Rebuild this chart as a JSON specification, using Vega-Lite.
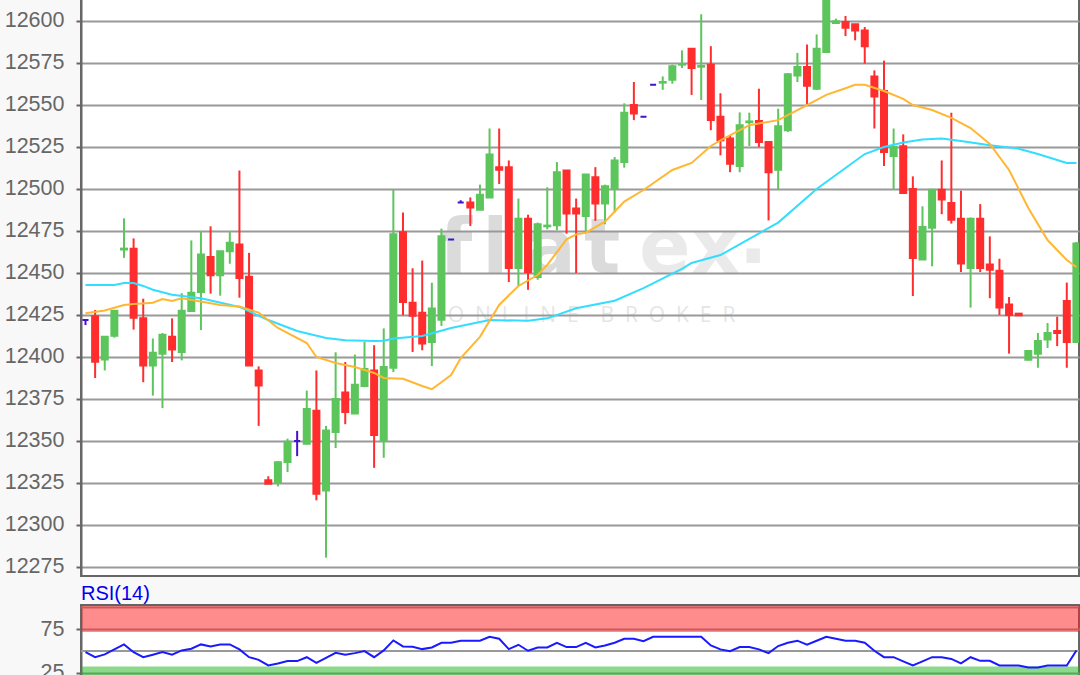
{
  "$schema": "https://vega.github.io/schema/vega-lite/v6.json",
  "background": "#f8f8f8",
  "padding": {"left": 0, "top": -11, "right": 1, "bottom": 0},
  "spacing": 4,
  "config": {
    "view": {"fill": "white", "stroke": "#666666", "strokeWidth": 2},
    "font": "Liberation Sans",
    "axisY": {
      "title": null,
      "labelFont": "Liberation Sans",
      "labelFontSize": 21.5,
      "labelColor": "#666666",
      "labelPadding": 12,
      "tickColor": "#666666",
      "tickSize": 5,
      "tickWidth": 2,
      "domainColor": "#666666",
      "domainWidth": 2,
      "gridColor": "#999999",
      "gridWidth": 2,
      "gridOpacity": 1,
      "minExtent": 80,
      "maxExtent": 80
    }
  },
  "datasets": {
    "candles": [
      {"i":0,"open":12422,"high":12422.5,"low":12419,"close":12422,"dir":"flat"},
      {"i":1,"open":12424.2,"high":12428,"low":12387.5,"close":12397.2,"dir":"down"},
      {"i":2,"open":12398.5,"high":12412,"low":12392,"close":12412,"dir":"up"},
      {"i":3,"open":12412.7,"high":12427.5,"low":12411.5,"close":12427.5,"dir":"up"},
      {"i":4,"open":12464,"high":12482.5,"low":12459,"close":12464.5,"dir":"up"},
      {"i":5,"open":12464.5,"high":12470.6,"low":12416.3,"close":12423.4,"dir":"down"},
      {"i":6,"open":12423,"high":12434.7,"low":12385,"close":12395,"dir":"down"},
      {"i":7,"open":12395,"high":12411,"low":12377,"close":12402.6,"dir":"up"},
      {"i":8,"open":12402,"high":12414.3,"low":12369.6,"close":12413.3,"dir":"up"},
      {"i":9,"open":12412,"high":12423,"low":12397,"close":12404.4,"dir":"down"},
      {"i":10,"open":12403,"high":12438,"low":12398,"close":12427.6,"dir":"up"},
      {"i":11,"open":12427.4,"high":12469.4,"low":12426.8,"close":12438.3,"dir":"up"},
      {"i":12,"open":12438.7,"high":12475,"low":12416,"close":12461,"dir":"up"},
      {"i":13,"open":12459.5,"high":12477.8,"low":12437.7,"close":12448.6,"dir":"down"},
      {"i":14,"open":12448.6,"high":12463,"low":12436.5,"close":12463,"dir":"up"},
      {"i":15,"open":12463,"high":12475,"low":12455.5,"close":12468,"dir":"up"},
      {"i":16,"open":12467,"high":12511,"low":12435.3,"close":12447,"dir":"down"},
      {"i":17,"open":12447.8,"high":12462,"low":12395,"close":12395,"dir":"down"},
      {"i":18,"open":12392,"high":12394.4,"low":12359,"close":12383,"dir":"down"},
      {"i":19,"open":12326.6,"high":12329,"low":12324.6,"close":12324.6,"dir":"down"},
      {"i":20,"open":12325,"high":12338,"low":12323,"close":12337.3,"dir":"up"},
      {"i":21,"open":12337.5,"high":12351.4,"low":12331.5,"close":12349.6,"dir":"up"},
      {"i":22,"open":12350,"high":12356,"low":12341,"close":12350,"dir":"flat"},
      {"i":23,"open":12348.4,"high":12380,"low":12348,"close":12369,"dir":"up"},
      {"i":24,"open":12368,"high":12392,"low":12314.7,"close":12318.6,"dir":"down"},
      {"i":25,"open":12320.6,"high":12359,"low":12280.6,"close":12356.3,"dir":"up"},
      {"i":26,"open":12355.4,"high":12402.8,"low":12345.8,"close":12375,"dir":"up"},
      {"i":27,"open":12378.8,"high":12397,"low":12360,"close":12367.3,"dir":"down"},
      {"i":28,"open":12366.3,"high":12401.4,"low":12366,"close":12383.5,"dir":"up"},
      {"i":29,"open":12382.7,"high":12409,"low":12382,"close":12392.9,"dir":"up"},
      {"i":30,"open":12392,"high":12407,"low":12334,"close":12353.6,"dir":"down"},
      {"i":31,"open":12350,"high":12417,"low":12340,"close":12394,"dir":"up"},
      {"i":32,"open":12393.6,"high":12500,"low":12391,"close":12473,"dir":"up"},
      {"i":33,"open":12474.2,"high":12486,"low":12424.8,"close":12432.7,"dir":"down"},
      {"i":34,"open":12432.3,"high":12452.8,"low":12403,"close":12424.6,"dir":"down"},
      {"i":35,"open":12426.4,"high":12457.4,"low":12404,"close":12408,"dir":"down"},
      {"i":36,"open":12409,"high":12444.2,"low":12394.6,"close":12428.8,"dir":"up"},
      {"i":37,"open":12422.2,"high":12476.4,"low":12418.5,"close":12471.8,"dir":"up"},
      {"i":38,"open":12470,"high":12470,"low":12470,"close":12470,"dir":"flat"},
      {"i":39,"open":12492,"high":12493.3,"low":12492,"close":12492,"dir":"flat"},
      {"i":40,"open":12492,"high":12495,"low":12478,"close":12489,"dir":"down"},
      {"i":41,"open":12487.7,"high":12502.6,"low":12487.7,"close":12496.6,"dir":"up"},
      {"i":42,"open":12495,"high":12536,"low":12495,"close":12520.6,"dir":"up"},
      {"i":43,"open":12513,"high":12536,"low":12503,"close":12511.5,"dir":"down"},
      {"i":44,"open":12513,"high":12517,"low":12444.6,"close":12453,"dir":"down"},
      {"i":45,"open":12453,"high":12494.3,"low":12442,"close":12482.3,"dir":"up"},
      {"i":46,"open":12482.3,"high":12484.7,"low":12440,"close":12450.6,"dir":"down"},
      {"i":47,"open":12447.6,"high":12480,"low":12446,"close":12479,"dir":"up"},
      {"i":48,"open":12477.8,"high":12501,"low":12476,"close":12478.2,"dir":"up"},
      {"i":49,"open":12478.4,"high":12516,"low":12475.4,"close":12510,"dir":"up"},
      {"i":50,"open":12511,"high":12511,"low":12473.4,"close":12485.4,"dir":"down"},
      {"i":51,"open":12488.4,"high":12494.3,"low":12450,"close":12485.4,"dir":"down"},
      {"i":52,"open":12484,"high":12508.6,"low":12475,"close":12508.6,"dir":"up"},
      {"i":53,"open":12507,"high":12513,"low":12481,"close":12491.4,"dir":"down"},
      {"i":54,"open":12491.4,"high":12502.6,"low":12479,"close":12501.6,"dir":"up"},
      {"i":55,"open":12500,"high":12519,"low":12486,"close":12517,"dir":"up"},
      {"i":56,"open":12516,"high":12551,"low":12512.7,"close":12545.4,"dir":"up"},
      {"i":57,"open":12550,"high":12563.7,"low":12541,"close":12545,"dir":"down"},
      {"i":58,"open":12543,"high":12543,"low":12543,"close":12543,"dir":"flat"},
      {"i":59,"open":12562,"high":12562,"low":12562,"close":12562,"dir":"flat"},
      {"i":60,"open":12563.3,"high":12567,"low":12559,"close":12563.7,"dir":"up"},
      {"i":61,"open":12565,"high":12574,"low":12562.7,"close":12573,"dir":"up"},
      {"i":62,"open":12574,"high":12582.5,"low":12572,"close":12574.4,"dir":"up"},
      {"i":63,"open":12583.5,"high":12583.5,"low":12556,"close":12572,"dir":"down"},
      {"i":64,"open":12572.8,"high":12604,"low":12553,"close":12573.2,"dir":"up"},
      {"i":65,"open":12574,"high":12585,"low":12535,"close":12541,"dir":"down"},
      {"i":66,"open":12543,"high":12557,"low":12520,"close":12529,"dir":"down"},
      {"i":67,"open":12530,"high":12532,"low":12510,"close":12515,"dir":"down"},
      {"i":68,"open":12513.7,"high":12545.6,"low":12510,"close":12538,"dir":"up"},
      {"i":69,"open":12539.8,"high":12545.4,"low":12525.6,"close":12540.2,"dir":"up"},
      {"i":70,"open":12540.5,"high":12559.7,"low":12525,"close":12528,"dir":"down"},
      {"i":71,"open":12528,"high":12528.5,"low":12481.3,"close":12510,"dir":"down"},
      {"i":72,"open":12511.5,"high":12547.8,"low":12499.6,"close":12537.3,"dir":"up"},
      {"i":73,"open":12535,"high":12569,"low":12534,"close":12568.3,"dir":"up"},
      {"i":74,"open":12567.5,"high":12581,"low":12563.7,"close":12572.6,"dir":"up"},
      {"i":75,"open":12572.6,"high":12586,"low":12550,"close":12561.5,"dir":"down"},
      {"i":76,"open":12559.7,"high":12592,"low":12559,"close":12583.5,"dir":"up"},
      {"i":77,"open":12581.5,"high":12625,"low":12581.5,"close":12618,"dir":"up"},
      {"i":78,"open":12598.8,"high":12601.4,"low":12598.4,"close":12599.8,"dir":"up"},
      {"i":79,"open":12599.4,"high":12603,"low":12591,"close":12596,"dir":"down"},
      {"i":80,"open":12598,"high":12598,"low":12588.5,"close":12594.4,"dir":"down"},
      {"i":81,"open":12594.4,"high":12596.4,"low":12574.6,"close":12585,"dir":"down"},
      {"i":82,"open":12567,"high":12570.6,"low":12536,"close":12555,"dir":"down"},
      {"i":83,"open":12558.3,"high":12576.4,"low":12513.7,"close":12522,"dir":"down"},
      {"i":84,"open":12519.6,"high":12536,"low":12500,"close":12525,"dir":"up"},
      {"i":85,"open":12525.4,"high":12532.5,"low":12497,"close":12497.6,"dir":"down"},
      {"i":86,"open":12500,"high":12507.5,"low":12436.3,"close":12459,"dir":"down"},
      {"i":87,"open":12458,"high":12489.7,"low":12458,"close":12477.4,"dir":"up"},
      {"i":88,"open":12477,"high":12500,"low":12454,"close":12499.6,"dir":"up"},
      {"i":89,"open":12499.6,"high":12517,"low":12485,"close":12493.7,"dir":"down"},
      {"i":90,"open":12491.7,"high":12545.4,"low":12479.4,"close":12481.7,"dir":"down"},
      {"i":91,"open":12482.3,"high":12499,"low":12450.6,"close":12455.6,"dir":"down"},
      {"i":92,"open":12453,"high":12483,"low":12429.4,"close":12482.3,"dir":"up"},
      {"i":93,"open":12482.3,"high":12491,"low":12450.6,"close":12453,"dir":"down"},
      {"i":94,"open":12455,"high":12471.8,"low":12435,"close":12452,"dir":"down"},
      {"i":95,"open":12451.4,"high":12458.5,"low":12425,"close":12429.4,"dir":"down"},
      {"i":96,"open":12431.2,"high":12435.7,"low":12402,"close":12425,"dir":"down"},
      {"i":97,"open":12425.8,"high":12426,"low":12424.8,"close":12424.8,"dir":"down"},
      {"i":98,"open":12398.4,"high":12403.6,"low":12398,"close":12403.6,"dir":"up"},
      {"i":99,"open":12402,"high":12414.3,"low":12393.6,"close":12409.5,"dir":"up"},
      {"i":100,"open":12410.4,"high":12420.2,"low":12405.4,"close":12414.3,"dir":"up"},
      {"i":101,"open":12415.5,"high":12424,"low":12406.5,"close":12414.3,"dir":"down"},
      {"i":102,"open":12433.3,"high":12444.3,"low":12393.6,"close":12409,"dir":"down"},
      {"i":103,"open":12409,"high":12468.5,"low":12409,"close":12467.5,"dir":"up"}
    ],
    "slowAvg": [
      {"i":0,"v":12442.9},{"i":3,"v":12442.9},{"i":4,"v":12444},{"i":5,"v":12444},{"i":6,"v":12442.3},
      {"i":7,"v":12440},{"i":9,"v":12437},{"i":12,"v":12435},{"i":16,"v":12429.8},{"i":19,"v":12422},
      {"i":22,"v":12415.5},{"i":25,"v":12411.3},{"i":27,"v":12410},{"i":30,"v":12409.5},{"i":31,"v":12409.7},
      {"i":32,"v":12411},{"i":35,"v":12412.5},{"i":38,"v":12417.3},{"i":42,"v":12422},{"i":46,"v":12421.6},
      {"i":48,"v":12423},{"i":51,"v":12429},{"i":55,"v":12433.5},{"i":58,"v":12441},{"i":62,"v":12452.4},
      {"i":63,"v":12456},{"i":66,"v":12460.7},{"i":72,"v":12480},{"i":76,"v":12500},{"i":79,"v":12512.5},
      {"i":81,"v":12520.8},{"i":83,"v":12525},{"i":85,"v":12527.7},{"i":87,"v":12529.5},{"i":89,"v":12530},
      {"i":91,"v":12528.6},{"i":94,"v":12526},{"i":97,"v":12524},{"i":99,"v":12520.8},{"i":102,"v":12515.5},
      {"i":103,"v":12515.5}
    ],
    "fastAvg": [
      {"i":0,"v":12426},{"i":2,"v":12427.7},{"i":4,"v":12431},{"i":5,"v":12431.5},{"i":7,"v":12432.3},
      {"i":8,"v":12434.5},{"i":9,"v":12433.3},{"i":10,"v":12435},{"i":13,"v":12432},{"i":14,"v":12431},
      {"i":16,"v":12430},{"i":18,"v":12426.4},{"i":20,"v":12417.3},{"i":23,"v":12408.3},{"i":24,"v":12400},
      {"i":26,"v":12396.4},{"i":28,"v":12394},{"i":30,"v":12390.5},{"i":31,"v":12387.5},{"i":33,"v":12387},
      {"i":35,"v":12382.7},{"i":36,"v":12380.8},{"i":38,"v":12389.3},{"i":39,"v":12399.4},{"i":41,"v":12412},
      {"i":43,"v":12431},{"i":45,"v":12442.3},{"i":47,"v":12448.8},{"i":48,"v":12454.8},{"i":50,"v":12470},
      {"i":51,"v":12473},{"i":52,"v":12474},{"i":54,"v":12480.6},{"i":56,"v":12492.5},{"i":58,"v":12499.4},
      {"i":61,"v":12511.3},{"i":63,"v":12515.5},{"i":65,"v":12525.6},{"i":66,"v":12529},{"i":69,"v":12538},
      {"i":72,"v":12541},{"i":74,"v":12547},{"i":77,"v":12556},{"i":79,"v":12560},{"i":80,"v":12562},
      {"i":81,"v":12562},{"i":83,"v":12558.3},{"i":85,"v":12553.6},{"i":86,"v":12550},{"i":88,"v":12547},
      {"i":90,"v":12542.3},{"i":92,"v":12536.3},{"i":94,"v":12526.8},{"i":96,"v":12511.3},{"i":98,"v":12488.7},
      {"i":100,"v":12469.6},{"i":102,"v":12457.7},{"i":103,"v":12453.6}
    ],
    "rsi": [
      {"i":0,"v":48.8},{"i":1,"v":43},{"i":2,"v":46.2},{"i":3,"v":52},{"i":4,"v":57.7},{"i":5,"v":48.8},
      {"i":6,"v":43},{"i":7,"v":45.8},{"i":8,"v":48.8},{"i":9,"v":45.8},{"i":10,"v":50.8},{"i":11,"v":52.7},
      {"i":12,"v":57.7},{"i":13,"v":55.4},{"i":14,"v":57.7},{"i":15,"v":57.7},{"i":16,"v":52},{"i":17,"v":43},
      {"i":18,"v":40},{"i":19,"v":33.5},{"i":20,"v":35.8},{"i":21,"v":38.5},{"i":22,"v":38.5},{"i":23,"v":43},
      {"i":24,"v":36.6},{"i":25,"v":42.3},{"i":26,"v":48},{"i":27,"v":45.8},{"i":28,"v":47.7},{"i":29,"v":50},
      {"i":30,"v":43},{"i":31,"v":50.8},{"i":32,"v":62.3},{"i":33,"v":55.4},{"i":34,"v":55},{"i":35,"v":52.3},
      {"i":36,"v":54.2},{"i":37,"v":59.6},{"i":38,"v":59.6},{"i":39,"v":62},{"i":40,"v":62},{"i":41,"v":62},
      {"i":42,"v":66.5},{"i":43,"v":64.2},{"i":44,"v":52.3},{"i":45,"v":57.3},{"i":46,"v":50.4},{"i":47,"v":54.2},
      {"i":48,"v":54.2},{"i":49,"v":59.6},{"i":50,"v":54.6},{"i":51,"v":54.6},{"i":52,"v":59.6},{"i":53,"v":54.2},
      {"i":54,"v":56.5},{"i":55,"v":59.6},{"i":56,"v":64.2},{"i":57,"v":64.2},{"i":58,"v":61.5},{"i":59,"v":66.5},
      {"i":60,"v":66.5},{"i":61,"v":66.5},{"i":62,"v":66.5},{"i":63,"v":66.5},{"i":64,"v":66.5},{"i":65,"v":56.5},
      {"i":66,"v":52},{"i":67,"v":50},{"i":68,"v":54.6},{"i":69,"v":54.6},{"i":70,"v":52},{"i":71,"v":47.7},
      {"i":72,"v":55.8},{"i":73,"v":59.6},{"i":74,"v":62},{"i":75,"v":57.3},{"i":76,"v":61.9},{"i":77,"v":66.5},
      {"i":78,"v":64.2},{"i":79,"v":62},{"i":80,"v":62},{"i":81,"v":59.6},{"i":82,"v":50.4},{"i":83,"v":43},
      {"i":84,"v":43},{"i":85,"v":38.2},{"i":86,"v":33.5},{"i":87,"v":38.2},{"i":88,"v":43},{"i":89,"v":43},
      {"i":90,"v":41},{"i":91,"v":36},{"i":92,"v":43},{"i":93,"v":38.8},{"i":94,"v":38.8},{"i":95,"v":33.5},
      {"i":96,"v":33.5},{"i":97,"v":33.5},{"i":98,"v":31.2},{"i":99,"v":31.2},{"i":100,"v":33.5},{"i":101,"v":33.5},
      {"i":102,"v":33.5},{"i":103,"v":50.8}
    ]
  },
  "vconcat": [
    {
      "width": 998,
      "height": 586,
      "encoding": {
        "x": {"field": "i", "type": "quantitative", "axis": null, "scale": {"domain": [-0.468, 103.27], "nice": false, "zero": false, "padding": 0}},
        "y": {"field": "v", "type": "quantitative", "axis": {"values": [12275,12300,12325,12350,12375,12400,12425,12450,12475,12500,12525,12550,12575,12600], "format": "d", "grid": true}, "scale": {"domain": [12269.64, 12618.45], "nice": false, "zero": false}}
      },
      "layer": [
        {
          "data": {"values": [
            {"i": 38.5, "v": 12450, "t": "f"},
            {"i": 42.6, "v": 12450, "t": "l"},
            {"i": 48.3, "v": 12450, "t": "a"},
            {"i": 53.7, "v": 12450, "t": "t"}
          ]},
          "mark": {"type": "text", "font": "DejaVu Sans", "fontWeight": "bold", "fontSize": 76, "color": "#999999", "opacity": 0.35, "baseline": "alphabetic"},
          "encoding": {"text": {"field": "t"}}
        },
        {
          "data": {"values": [
            {"i": 60.2, "v": 12450, "t": "e"},
            {"i": 65.5, "v": 12450, "t": "x"},
            {"i": 69.4, "v": 12456, "t": "."}
          ]},
          "mark": {"type": "text", "font": "DejaVu Sans", "fontWeight": "bold", "fontSize": 76, "color": "#999999", "opacity": 0.2, "baseline": "alphabetic"},
          "encoding": {"text": {"field": "t"}}
        },
        {
          "data": {"values": [
            {"i": 52.6, "v": 12421, "t": "O\u00a0\u00a0N\u00a0\u00a0L\u00a0\u00a0I\u00a0\u00a0N\u00a0\u00a0E\u00a0\u00a0\u00a0\u00a0B\u00a0\u00a0R\u00a0\u00a0O\u00a0\u00a0K\u00a0\u00a0E\u00a0\u00a0R"}
          ]},
          "mark": {"type": "text", "font": "Open Sans", "fontSize": 21, "color": "#999999", "opacity": 0.25, "baseline": "alphabetic"},
          "encoding": {"text": {"field": "t"}}
        },
        {
          "data": {"name": "candles"},
          "mark": {"type": "rule", "strokeWidth": 2, "clip": true},
          "encoding": {
            "y": {"field": "low", "type": "quantitative"},
            "y2": {"field": "high"},
            "color": {"field": "dir", "type": "nominal", "legend": null, "scale": {"domain": ["up", "down", "flat"], "range": ["#5cc55c", "#ff2d2d", "#4411cc"]}}
          }
        },
        {
          "data": {"name": "candles"},
          "mark": {"type": "bar", "size": 6, "strokeWidth": 2, "clip": true},
          "encoding": {
            "y": {"field": "open", "type": "quantitative"},
            "y2": {"field": "close"},
            "color": {"field": "dir", "type": "nominal", "legend": null, "scale": {"domain": ["up", "down", "flat"], "range": ["#5cc55c", "#ff2d2d", "#4411cc"]}},
            "stroke": {"field": "dir", "type": "nominal", "legend": null, "scale": {"domain": ["up", "down", "flat"], "range": ["#5cc55c", "#ff2d2d", "#4411cc"]}}
          }
        },
        {
          "data": {"name": "slowAvg"},
          "mark": {"type": "line", "color": "#33ddff", "strokeWidth": 2},
          "encoding": {}
        },
        {
          "data": {"name": "fastAvg"},
          "mark": {"type": "line", "color": "#ffb733", "strokeWidth": 2},
          "encoding": {}
        }
      ]
    },
    {
      "width": 998,
      "height": 87,
      "title": {"text": "RSI(14)", "anchor": "start", "frame": "group", "font": "Liberation Sans", "fontSize": 20, "fontWeight": "normal", "color": "#0000ee", "offset": 1},
      "layer": [
        {
          "data": {"values": [{"level": 100}, {"level": 50}]},
          "mark": {"type": "rule", "color": "#999999", "strokeWidth": 2},
          "encoding": {
            "y": {"field": "level", "type": "quantitative", "axis": {"values": [25, 75], "format": "d", "grid": true}, "scale": {"domain": [3, 103], "nice": false, "zero": false}}
          }
        },
        {
          "data": {"values": [
            {"zone": "overbought", "from": 72, "to": 103},
            {"zone": "oversold", "from": 3, "to": 32.4}
          ]},
          "mark": {"type": "rect", "opacity": 0.5},
          "encoding": {
            "y": {"field": "from", "type": "quantitative"},
            "y2": {"field": "to"},
            "color": {"field": "zone", "type": "nominal", "legend": null, "scale": {"domain": ["overbought", "oversold"], "range": ["#ff1a1a", "#19b319"]}}
          }
        },
        {
          "data": {"name": "rsi"},
          "mark": {"type": "line", "color": "#1a1aff", "strokeWidth": 2},
          "encoding": {
            "x": {"field": "i", "type": "quantitative", "axis": null, "scale": {"domain": [-0.468, 103.27], "nice": false, "zero": false, "padding": 0}},
            "y": {"field": "v", "type": "quantitative"}
          }
        }
      ]
    }
  ],
  "resolve": {"scale": {"color": "independent"}}
}
